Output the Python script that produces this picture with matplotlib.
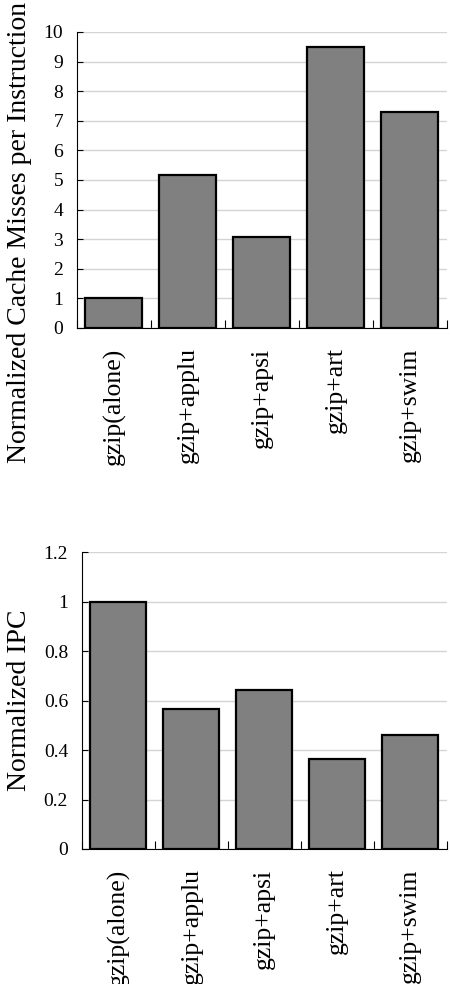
import numpy as np
import matplotlib.pyplot as plt
from matplotlib.ticker import FixedLocator, FuncFormatter

plt.rcParams["font.family"] = ["Liberation Serif", "DejaVu Serif"]

WORKLOADS = ["gzip(alone)", "gzip+applu", "gzip+apsi", "gzip+art", "gzip+swim"]
MISSES = [1.0, 5.17, 3.08, 9.5, 7.29]
IPC = [1.0, 0.566, 0.644, 0.365, 0.462]


def style_axis(ax, values, ylim, yticks, ylabel):
    x = np.arange(len(values))
    ax.bar(x, values, width=0.77, color="#808080", edgecolor="black",
           linewidth=1.6, zorder=3)
    ax.set_xlim(-0.5, len(values) - 0.5)
    ax.set_ylim(*ylim)
    ax.set_yticks(yticks)
    ax.yaxis.set_major_formatter(FuncFormatter(lambda v, p: "%g" % round(v, 2)))
    ax.set_xticks(x)
    ax.set_xticklabels(WORKLOADS, rotation=90)
    ax.xaxis.set_minor_locator(FixedLocator(np.arange(len(values) + 1) - 0.5))
    ax.tick_params(axis="x", which="major", length=0, pad=14, labelsize=18.5)
    ax.tick_params(axis="x", which="minor", direction="in", length=6,
                   width=0.8, color="black")
    ax.tick_params(axis="y", direction="in", length=4.5, width=0.8,
                   pad=10, labelsize=14)
    ax.spines["top"].set_visible(False)
    ax.spines["right"].set_visible(False)
    ax.spines["left"].set_linewidth(0.8)
    ax.spines["bottom"].set_linewidth(0.8)
    ax.yaxis.grid(True, color="#d4d4d4", linewidth=1)
    ax.set_axisbelow(True)
    ax.set_ylabel(ylabel, fontsize=20)


fig = plt.figure(figsize=(4.5, 9.84), dpi=100)

# cache misses per instruction
ax1 = fig.add_axes([0.171, 0.6667, 0.822, 0.3008])
style_axis(ax1, MISSES, (0, 10), np.arange(0, 11, 1),
           "Normalized Cache Misses per Instruction")
ax1.set_ylabel("Normalized Cache Misses per Instruction", fontsize=20,
               loc="bottom")
ax1.yaxis.set_label_coords(-0.122, -0.456)

# IPC
ax2 = fig.add_axes([0.182, 0.1372, 0.811, 0.3015])
style_axis(ax2, IPC, (0, 1.2), np.arange(0, 1.21, 0.2), "Normalized IPC")
ax2.yaxis.set_label_coords(-0.137, 0.5)

fig.savefig("out.png", dpi=100)
